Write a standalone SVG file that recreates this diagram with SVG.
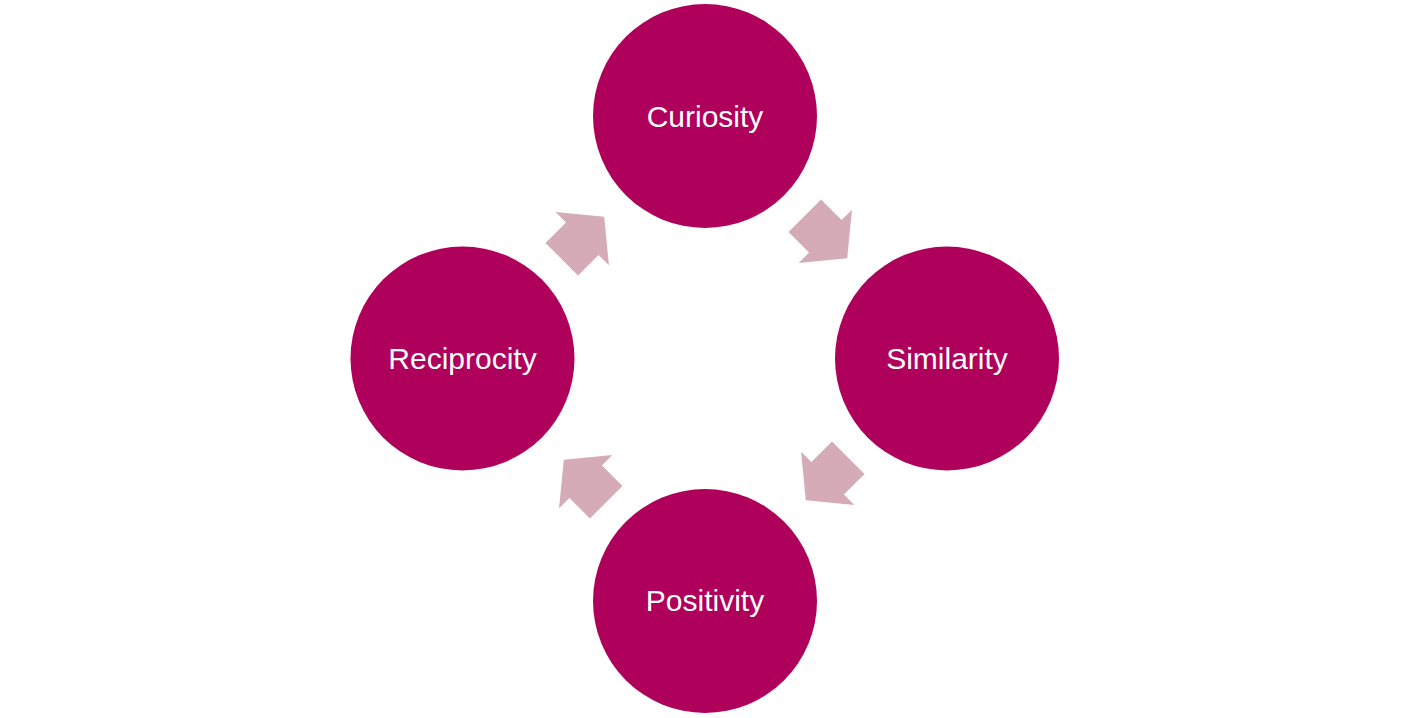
<svg xmlns="http://www.w3.org/2000/svg" width="1410" height="718" viewBox="0 0 1410 718">
<style>
.node{fill:#AF005B}
.lbl{fill:#FFFFFF;font-family:"Liberation Sans",Arial,sans-serif;font-size:30px;text-anchor:middle}
.arr{fill:#D5ABB8}
</style>
<defs>
<polygon id="arrow" points="-30,-23 -1,-23 -1,-37.7 30,0 -1,37.7 -1,23 -30,23"/>
</defs>
<rect width="1410" height="718" fill="#FFFFFF"/>
<g id="connectors">
<use href="#arrow" class="arr" transform="translate(826,237) rotate(45)"/>
<use href="#arrow" class="arr" transform="translate(827,479) rotate(135)"/>
<use href="#arrow" class="arr" transform="translate(585,481) rotate(-135)"/>
<use href="#arrow" class="arr" transform="translate(583,238) rotate(-45)"/>
</g>
<g id="curiosity">
<circle class="node" cx="705" cy="116" r="112"/>
<text class="lbl" x="705" y="126.5">Curiosity</text>
</g>
<g id="similarity">
<circle class="node" cx="947" cy="358.5" r="112"/>
<text class="lbl" x="947" y="369">Similarity</text>
</g>
<g id="positivity">
<circle class="node" cx="705" cy="601" r="112"/>
<text class="lbl" x="705" y="611">Positivity</text>
</g>
<g id="reciprocity">
<circle class="node" cx="462.5" cy="358.5" r="112"/>
<text class="lbl" x="462.5" y="369">Reciprocity</text>
</g>
</svg>
